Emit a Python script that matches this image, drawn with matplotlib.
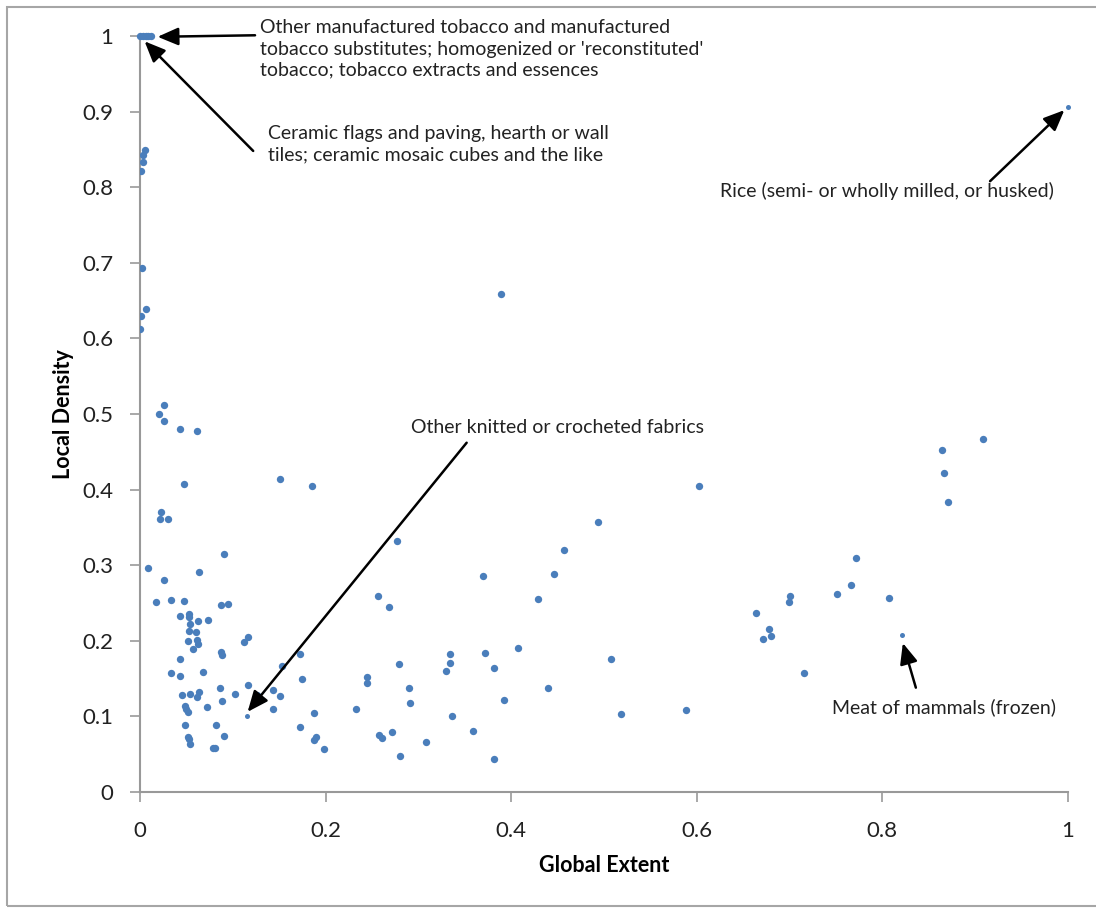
import matplotlib.pyplot as plt
from matplotlib.patches import Rectangle
import numpy as np

# regular points (global extent, local density)
extent = [0.005, 0.003, 0.003, 0.001,
          0.002, 0.006, 0.001, 0.0,
          0.026, 0.021, 0.026, 0.043, 0.061, 0.047, 0.151, 0.185,
          0.023, 0.022, 0.030,
          0.0905, 0.0086, 0.0636, 0.0262, 0.0169, 0.0334, 0.0471, 0.087,
          0.0945, 0.0431, 0.0528, 0.0531, 0.0625, 0.0736, 0.0542, 0.0528,
          0.060, 0.0514, 0.061, 0.0628, 0.0568, 0.1118, 0.1164, 0.087,
          0.0887, 0.0431, 0.0338, 0.0431, 0.0679, 0.1724, 0.1534, 0.1742,
          0.0858, 0.116, 0.0456, 0.0542, 0.0632, 0.0614, 0.1024, 0.0887,
          0.126, 0.1437, 0.1509, 0.0481, 0.0499, 0.0514, 0.0722, 0.1437,
          0.0488, 0.0815, 0.0514, 0.0902, 0.0542, 0.0525, 0.079, 0.0808,
          0.1724, 0.188, 0.1878, 0.190,
          0.2766, 0.370, 0.257, 0.268, 0.279, 0.334, 0.334, 0.330,
          0.3714, 0.4077, 0.381, 0.2443, 0.2443, 0.290, 0.2913, 0.392,
          0.336, 0.233, 0.198, 0.258, 0.261, 0.272, 0.308, 0.2805,
          0.359, 0.381, 0.389,
          0.602, 0.493, 0.457, 0.446, 0.4285, 0.508, 0.440, 0.518,
          0.588, 0.664, 0.678, 0.680, 0.671, 0.700, 0.699,
          0.908, 0.864, 0.866, 0.871, 0.772, 0.766, 0.751, 0.807, 0.715]
density = [0.849, 0.843, 0.833, 0.821,
           0.693, 0.639, 0.629, 0.612,
           0.512, 0.500, 0.491, 0.480, 0.478, 0.408, 0.414, 0.405,
           0.370, 0.361, 0.361,
           0.315, 0.296, 0.291, 0.281, 0.251, 0.254, 0.253, 0.247,
           0.249, 0.233, 0.235, 0.232, 0.226, 0.227, 0.222, 0.213,
           0.211, 0.200, 0.201, 0.196, 0.189, 0.199, 0.205, 0.185,
           0.181, 0.176, 0.157, 0.154, 0.159, 0.183, 0.166, 0.150,
           0.137, 0.142, 0.128, 0.130, 0.132, 0.125, 0.130, 0.121,
           0.128, 0.135, 0.127, 0.114, 0.110, 0.106, 0.112, 0.110,
           0.088, 0.088, 0.073, 0.074, 0.064, 0.070, 0.0586, 0.0586,
           0.086, 0.104, 0.069, 0.073,
           0.332, 0.286, 0.259, 0.245, 0.169, 0.183, 0.171, 0.160,
           0.184, 0.190, 0.164, 0.152, 0.1435, 0.138, 0.118, 0.122,
           0.101, 0.110, 0.057, 0.076, 0.072, 0.079, 0.0657, 0.047,
           0.081, 0.044, 0.659,
           0.405, 0.357, 0.320, 0.288, 0.255, 0.176, 0.137, 0.103,
           0.108, 0.237, 0.215, 0.206, 0.203, 0.259, 0.2515,
           0.467, 0.452, 0.422, 0.383, 0.310, 0.274, 0.262, 0.257, 0.157]

# labelled products
tobacco_x = [0.0, 0.003, 0.006, 0.009, 0.012]
tobacco_y = [1.0, 1.0, 1.0, 1.0, 1.0]
special_x = [1.0, 0.821, 0.1153]
special_y = [0.906, 0.207, 0.1005]

labels = ["Other manufactured tobacco and manufactured\ntobacco substitutes; homogenized or 'reconstituted'\ntobacco; tobacco extracts and essences",
          "Ceramic flags and paving, hearth or wall\ntiles; ceramic mosaic cubes and the like",
          "Rice (semi- or wholly milled, or husked)",
          "Other knitted or crocheted fabrics",
          "Meat of mammals (frozen)"]
label_pos = [(0.129, 1.022), (0.138, 0.882), (0.625, 0.795), (0.292, 0.482), (0.746, 0.112)]
label_va = ['top', 'top', 'center', 'center', 'center']
arrow_tail = [(0.124, 1.001), (0.122, 0.848), (0.916, 0.808), (0.352, 0.462), (0.836, 0.138)]
arrow_head = [(0.019, 0.999), (0.005, 0.993), (0.996, 0.902), (0.116, 0.106), (0.822, 0.197)]

blue = '#4A7EBB'
plt.rcParams['font.family'] = ['Lato', 'DejaVu Sans']

fig = plt.figure(figsize=(10.96, 9.10), dpi=100)
fig.patches.append(Rectangle((7 / 1096, 4 / 910), 1.0, 1 - 11 / 910, transform=fig.transFigure,
                             fill=False, edgecolor='#a6a6a6', linewidth=1.5))
ax = fig.add_axes([0.1277, 0.1297, 0.8468, 0.8307])

ax.scatter(extent, density, s=28, color=blue, linewidths=0, zorder=3)
ax.scatter(tobacco_x, tobacco_y, s=28, color=blue, linewidths=0, zorder=3, clip_on=False)
ax.scatter(special_x, special_y, s=13, color=blue, linewidths=0, zorder=3, clip_on=False)

ax.set_xlim(0, 1)
ax.set_ylim(0, 1)
ax.set_xticks([0, 0.2, 0.4, 0.6, 0.8, 1])
ax.set_xticklabels(['0', '0.2', '0.4', '0.6', '0.8', '1'])
ax.set_yticks([0, 0.1, 0.2, 0.3, 0.4, 0.5, 0.6, 0.7, 0.8, 0.9, 1])
ax.set_yticklabels(['0', '0.1', '0.2', '0.3', '0.4', '0.5', '0.6', '0.7', '0.8', '0.9', '1'])
ax.tick_params(labelsize=16, colors='#999999', labelcolor='#222222', length=7, width=1.2)
ax.tick_params(axis='x', pad=14)
ax.tick_params(axis='y', pad=12)
for s in ['top', 'right']:
    ax.spines[s].set_visible(False)
for s in ['left', 'bottom']:
    ax.spines[s].set_color('#999999')
    ax.spines[s].set_linewidth(1.5)

ax.set_xlabel('Global Extent', fontsize=15.5, fontweight='bold', labelpad=10)
ax.set_ylabel('Local Density', fontsize=15.5, fontweight='bold', labelpad=6)

for text, pos, va in zip(labels, label_pos, label_va):
    ax.text(pos[0], pos[1], text, fontsize=14, va=va, ha='left', color='#222222',
            linespacing=1.3, clip_on=False)
for tail, head in zip(arrow_tail, arrow_head):
    ax.annotate('', xy=head, xytext=tail, annotation_clip=False,
                arrowprops=dict(arrowstyle='-|>,head_length=0.7,head_width=0.3', color='black',
                                lw=1.8, mutation_scale=18, shrinkA=0, shrinkB=0))

fig.savefig('out.png', dpi=100)
